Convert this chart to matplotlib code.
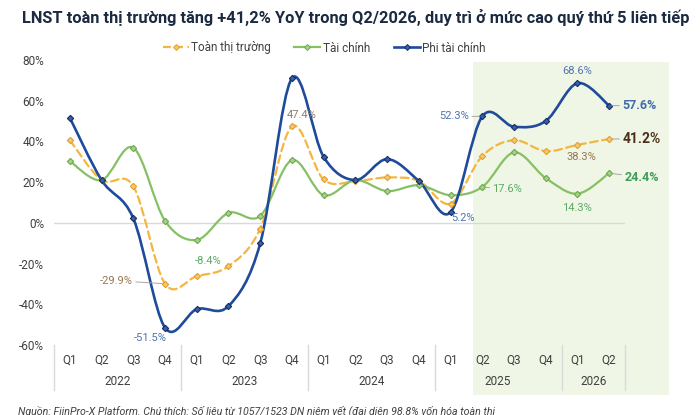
import matplotlib
matplotlib.use("Agg")
import matplotlib.pyplot as plt
from matplotlib.path import Path
from matplotlib.patches import PathPatch, Rectangle
from matplotlib.lines import Line2D
import numpy as np

plt.rcParams['font.family'] = ['Roboto', 'DejaVu Sans']

quarters = ["Q1", "Q2", "Q3", "Q4"] * 4 + ["Q1", "Q2"]
years = ["2022", "2023", "2024", "2025", "2026"]
year_sizes = [4, 4, 4, 4, 2]

toan_thi_truong = [40.6, 21.0, 18.0, -29.9, -26.2, -21.3, -2.8, 47.4, 21.3, 20.5, 22.3, 20.6,
                   9.5, 32.8, 40.6, 35.2, 38.3, 41.2]
tai_chinh = [30.3, 21.0, 36.9, 1.0, -8.4, 4.9, 3.4, 30.8, 13.6, 21.0, 15.6, 18.5,
             13.6, 17.6, 34.6, 22.0, 14.3, 24.4]
phi_tai_chinh = [51.6, 21.0, 2.2, -51.5, -42.4, -40.9, -10.1, 71.0, 32.4, 21.0, 31.3, 20.6,
                 5.2, 52.3, 47.2, 50.0, 68.6, 57.6]
yticks = [-60, -40, -20, 0, 20, 40, 60, 80]

C_ORANGE = "#F4B63F"
C_GREEN = "#86C064"
C_BLUE = "#1E4B9B"

fig = plt.figure(figsize=(7.0, 4.15), dpi=100)
ax = fig.add_axes([54/700, 1-345/415, 571/700, 285/415])
n = len(quarters)
x = np.arange(n)
ax.set_xlim(-0.5, n-0.5)
ax.set_ylim(-60, 80)

# highlight band
ax.add_patch(Rectangle((12.7, -84.5), 6.2, 163.5, facecolor="#EFF6E6", edgecolor="none",
                       zorder=0, clip_on=False))

ax.axhline(0, color="#D9D9D9", lw=1.0, zorder=1)


def smooth_patch(xs, ys, **kw):
    P = np.column_stack([xs, ys]).astype(float)
    m = len(P)
    verts = [tuple(P[0])]
    codes = [Path.MOVETO]
    for i in range(m-1):
        p0 = P[i-1] if i > 0 else P[i]
        p1 = P[i]
        p2 = P[i+1]
        p3 = P[i+2] if i+2 < m else P[i+1]
        c1 = p1 + (p2 - p0) / 6.0
        c2 = p2 - (p3 - p1) / 6.0
        verts += [tuple(c1), tuple(c2), tuple(p2)]
        codes += [Path.CURVE4] * 3
    return PathPatch(Path(verts, codes), fill=False, clip_on=False, **kw)


series = [
    ("Toàn thị trường", toan_thi_truong, C_ORANGE, (0, (3.5, 2)), 1.6, "#F7C86A", "#E0A030"),
    ("Tài chính", tai_chinh, C_GREEN, "-", 1.6, "#A6D38A", "#6FA84F"),
    ("Phi tài chính", phi_tai_chinh, C_BLUE, "-", 1.9, "#3A5FA8", "#142F66"),
]
handles = []
for name, vals, col, ls, lw, mfc, mec in series:
    ax.add_patch(smooth_patch(x, vals, edgecolor=col, lw=lw, linestyle=ls, zorder=3,
                              capstyle='round'))
    ax.plot(x, vals, linestyle="none", marker="D", markersize=3.2, markerfacecolor=mfc,
            markeredgecolor=mec, markeredgewidth=0.8, zorder=4, clip_on=False)
    handles.append(Line2D([], [], color=col, lw=lw, linestyle=ls, marker="D", markersize=3.0,
                          markerfacecolor=mfc, markeredgecolor=mec, markeredgewidth=0.7))

fig.legend(handles, [s[0] for s in series], loc="center", bbox_to_anchor=(324/700, 1-48/415),
           ncol=3, frameon=False, fontsize=8.5, handlelength=2.2, columnspacing=2.0,
           handletextpad=0.2, labelcolor="#404040")


# annotations: dx, dy in pixels (dy positive = up)
def lab(vals, i, dx, dy, color, bold=False, leader=False, size=8, ha="center"):
    txt = f"{vals[i]:.1f}%"
    kw = dict(xy=(i, vals[i]), xytext=(dx*0.72, dy*0.72), textcoords="offset points",
              ha=ha, va="center", color=color, fontsize=size,
              fontweight="bold" if bold else "normal", zorder=6, annotation_clip=False)
    if leader:
        kw["arrowprops"] = dict(arrowstyle="-", color="#A6A6A6", lw=0.7, shrinkA=0, shrinkB=2)
    ax.annotate(txt, **kw)


C_BL = "#4F74AE"
C_BR = "#9A7452"
C_GR = "#5DAA68"
lab(toan_thi_truong, 3, -32, 3, C_BR, leader=True, ha="right")
lab(phi_tai_chinh, 3, -15, -10, C_BL)
lab(tai_chinh, 4, 11, -21, C_GR)
lab(toan_thi_truong, 7, 10, 11, "#8C7B6B")
lab(phi_tai_chinh, 13, -13, 0, C_BL, leader=True, ha="right")
lab(phi_tai_chinh, 12, 13, -6, C_BL)
lab(tai_chinh, 13, 10, -2, C_GR, leader=True, ha="left")
lab(phi_tai_chinh, 16, 0, 12, C_BL)
lab(toan_thi_truong, 16, 4, -12, C_BR)
lab(tai_chinh, 16, 0, -14, C_GR)
lab(phi_tai_chinh, 17, 13, 0, "#3F6BA8", bold=True, leader=True, ha="left", size=9)
lab(toan_thi_truong, 17, 13, 0, "#4A2E18", bold=True, leader=True, ha="left", size=10)
lab(tai_chinh, 17, 15, -4, "#3F9E55", bold=True, leader=True, ha="left", size=9)

# axes styling
for s in ax.spines.values():
    s.set_visible(False)
ax.set_yticks(yticks)
ax.set_yticklabels([f"{t}%" for t in yticks], color="#404040", fontsize=8.5)
ax.tick_params(axis="y", length=0, pad=7)
ax.set_xticks([])

tr = ax.get_xaxis_transform()
for i, q in enumerate(quarters):
    ax.text(i, -0.0526, q, transform=tr, ha="center", va="center", fontsize=8.5,
            color="#404040", clip_on=False)
start = 0
ax.plot([-0.5, -0.5], [0, -0.158], transform=tr, color="#D9D9D9", lw=1.0, clip_on=False)
for yname, sz in zip(years, year_sizes):
    mid = start + (sz - 1) / 2
    ax.text(mid, -0.1298, yname, transform=tr, ha="center", va="center", fontsize=8.5,
            color="#404040", clip_on=False)
    end = start + sz - 0.5
    ax.plot([end, end], [0, -0.158], transform=tr, color="#D9D9D9", lw=1.0, clip_on=False)
    start += sz

fig.text(22/700, 1-18/415, "LNST toàn thị trường tăng +41,2% YoY trong Q2/2026, duy trì ở mức cao quý thứ 5 liên tiếp",
         ha="left", va="center", fontsize=11.8, fontweight="bold", color="#1B2A41")
fig.text(18/700, 1-405/415,
         "Nguồn: FiinPro-X Platform. Chú thích: Số liệu từ 1057/1523 DN niêm yết (đại diện 98.8% vốn hóa toàn thị",
         ha="left", va="top", fontsize=7.7, style="italic", color="#404040")

fig.savefig("out.png", dpi=100)
